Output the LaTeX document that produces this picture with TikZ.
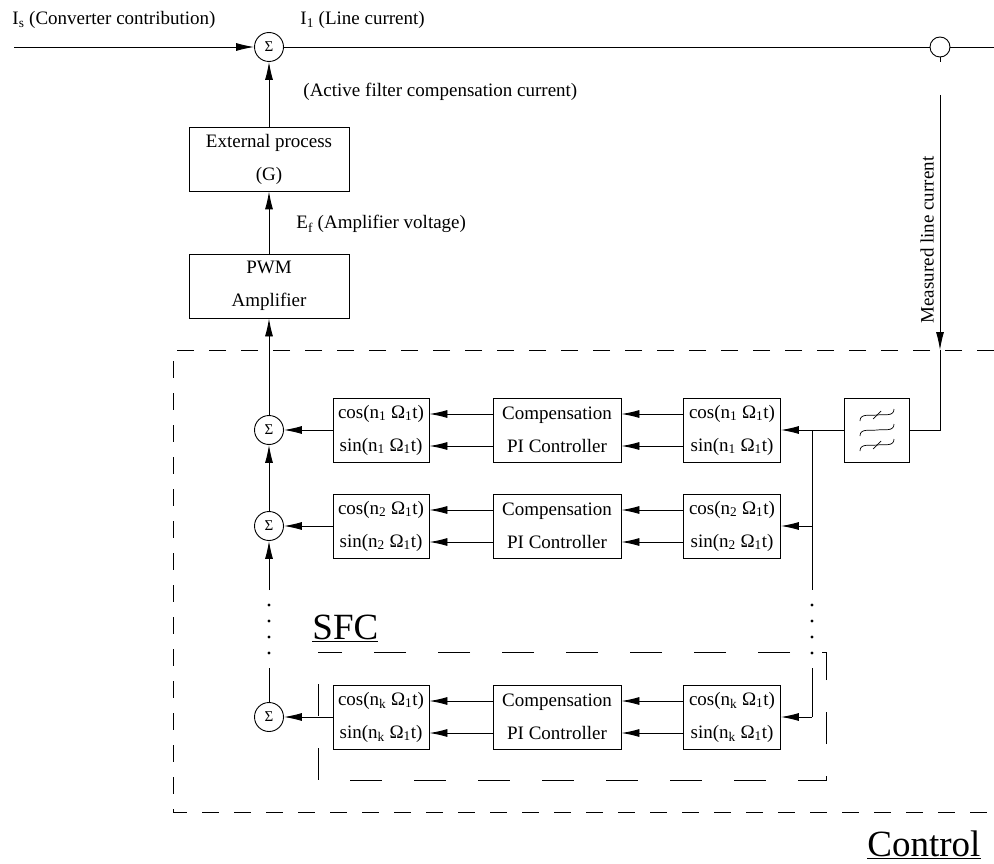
\documentclass[tikz,border=0pt]{standalone}
\usepackage{fontspec}
\setmainfont{Liberation Serif}
\usetikzlibrary{arrows.meta}

\tikzset{
  block/.style={draw, minimum height=64pt, inner sep=0pt, align=center, font=\fontsize{19}{33}\selectfont},
  sumnode/.style={circle, draw, minimum size=29pt, inner sep=0pt, font=\fontsize{15}{15}\selectfont},
  arr/.style={-{Latex[length=18pt,width=8pt]}},
  ctrlbox/.style={dash pattern=on 17pt off 15pt},
  sfcbox/.style={dash pattern=on 32pt off 32pt, dash phase=32pt},
  lbl/.style={anchor=base west, inner sep=0pt}
}

\begin{document}
\begin{tikzpicture}[x=1pt, y=-1pt, line width=0.9pt, font=\fontsize{19}{22}\selectfont]
    \useasboundingbox (0,0) rectangle (994,864);

    % Nodes
    \coordinate (src) at (14, 47);
    \node[sumnode] at (269, 47)  (sumline) {Σ};
    \node[circle, draw, minimum size=20pt, inner sep=0pt] at (940, 47)  (ct) {};
    \coordinate (lineend) at (994, 47);

    \node[block, minimum width=160pt] at (269, 159)  (ext) {External process\\(G)};
    \node[block, minimum width=160pt] at (269, 286)  (pwm) {PWM\\Amplifier};
    \node[draw, minimum width=65pt, minimum height=64pt] at (877, 430)  (filter) {};

    \node[sumnode] at (269, 430)  (sum1) {Σ};
    \node[sumnode] at (269, 526)  (sum2) {Σ};
    \node[sumnode] at (269, 717)  (sumk) {Σ};

    \node[block, minimum width=96pt] at (381, 430)  (mod1) {cos(n\textsubscript{1} Ω\textsubscript{1}t)\\sin(n\textsubscript{1} Ω\textsubscript{1}t)};
    \node[block, minimum width=96pt] at (381, 526)  (mod2) {cos(n\textsubscript{2} Ω\textsubscript{1}t)\\sin(n\textsubscript{2} Ω\textsubscript{1}t)};
    \node[block, minimum width=96pt] at (381, 717)  (modk) {cos(n\textsubscript{k} Ω\textsubscript{1}t)\\sin(n\textsubscript{k} Ω\textsubscript{1}t)};

    \node[block, minimum width=128pt] at (557, 430)  (comp1) {Compensation\\PI Controller};
    \node[block, minimum width=128pt] at (557, 526)  (comp2) {Compensation\\PI Controller};
    \node[block, minimum width=128pt] at (557, 717)  (compk) {Compensation\\PI Controller};

    \node[block, minimum width=97pt] at (732, 430)  (dem1) {cos(n\textsubscript{1} Ω\textsubscript{1}t)\\sin(n\textsubscript{1} Ω\textsubscript{1}t)};
    \node[block, minimum width=97pt] at (732, 526)  (dem2) {cos(n\textsubscript{2} Ω\textsubscript{1}t)\\sin(n\textsubscript{2} Ω\textsubscript{1}t)};
    \node[block, minimum width=97pt] at (732, 717)  (demk) {cos(n\textsubscript{k} Ω\textsubscript{1}t)\\sin(n\textsubscript{k} Ω\textsubscript{1}t)};

    \coordinate (meas) at (940, 95);
    \coordinate (meastip) at (940, 350);
    \coordinate (tap1) at (812, 430);
    \coordinate (tap2) at (812, 526);
    \coordinate (tapk) at (812, 717);
    \coordinate (busend) at (812, 590);
    \coordinate (busresume) at (812, 668);
    \coordinate (colend) at (269, 590);
    \coordinate (colresume) at (269, 668);

    % Labels
    \node[lbl] at (12, 25)  (islbl) {I\textsubscript{s} (Converter contribution)};
    \node[lbl] at (300, 25)  (illbl) {I\textsubscript{1} (Line current)};
    \node[lbl] at (303, 97)  (aflbl) {(Active filter compensation current)};
    \node[lbl] at (296, 229)  (eflbl) {E\textsubscript{f} (Amplifier voltage)};
    \node[rotate=90, inner sep=0pt] at (927, 240)  (measlbl) {Measured line current};
    \node[lbl, font=\fontsize{37}{40}\selectfont] at (312, 639)  (sfclbl) {\underline{SFC}};
    \node[lbl, font=\fontsize{37}{40}\selectfont] at (867, 856)  (ctrllbl) {\underline{Control}};

    % Line and measurement
    \draw[arr]  (src) -- (sumline);
    \draw       (sumline) -- (ct) -- (lineend);
    \draw       (ct.south) -- ++(0, 5);
    \draw[arr]  (meas) -- (meastip);
    \draw       (meastip) |- (filter.east);

    % Filter symbol
    \draw[line width=0.7pt] (860, 421) .. controls (860, 413) and (870, 416) .. (877, 415) .. controls (884, 414) and (894, 417) .. (894, 409);
    \draw[line width=0.7pt] (860, 436) .. controls (860, 428) and (870, 431) .. (877, 430) .. controls (884, 429) and (894, 432) .. (894, 424);
    \draw[line width=0.7pt] (860, 451) .. controls (860, 443) and (870, 446) .. (877, 445) .. controls (884, 444) and (894, 447) .. (894, 439);
    \draw[line width=0.7pt] (873, 419) -- (881, 411);
    \draw[line width=0.7pt] (873, 449) -- (881, 441);

    % Forward path
    \draw[arr]  (pwm) -- (ext);
    \draw[arr]  (ext) -- (sumline);
    \draw[arr]  (sum1) -- (pwm);
    \draw[arr]  (sum2) -- (sum1);
    \draw[arr]  (colend) -- (sum2);
    \draw       (sumk) -- (colresume);

    % Measurement bus
    \draw       (filter.west) -- (tap1) -- (busend);
    \draw       (busresume) -- (tapk);
    \draw[arr]  (tap1) -- (dem1);
    \draw[arr]  (tap2) -- (dem2);
    \draw[arr]  (tapk) -- (demk);

    % Rows
    \draw[arr]  ([yshift=16pt]dem1.west) -- ([yshift=16pt]comp1.east);
    \draw[arr]  ([yshift=-16pt]dem1.west) -- ([yshift=-16pt]comp1.east);
    \draw[arr]  ([yshift=16pt]comp1.west) -- ([yshift=16pt]mod1.east);
    \draw[arr]  ([yshift=-16pt]comp1.west) -- ([yshift=-16pt]mod1.east);
    \draw[arr]  (mod1) -- (sum1);

    \draw[arr]  ([yshift=16pt]dem2.west) -- ([yshift=16pt]comp2.east);
    \draw[arr]  ([yshift=-16pt]dem2.west) -- ([yshift=-16pt]comp2.east);
    \draw[arr]  ([yshift=16pt]comp2.west) -- ([yshift=16pt]mod2.east);
    \draw[arr]  ([yshift=-16pt]comp2.west) -- ([yshift=-16pt]mod2.east);
    \draw[arr]  (mod2) -- (sum2);

    \draw[arr]  ([yshift=16pt]demk.west) -- ([yshift=16pt]compk.east);
    \draw[arr]  ([yshift=-16pt]demk.west) -- ([yshift=-16pt]compk.east);
    \draw[arr]  ([yshift=16pt]compk.west) -- ([yshift=16pt]modk.east);
    \draw[arr]  ([yshift=-16pt]compk.west) -- ([yshift=-16pt]modk.east);
    \draw[arr]  (modk) -- (sumk);

    % Dots
    \fill (269, 605) circle (1.6pt) (269, 621) circle (1.6pt) (269, 637) circle (1.6pt) (269, 653) circle (1.6pt);
    \fill (812, 605) circle (1.6pt) (812, 621) circle (1.6pt) (812, 637) circle (1.6pt) (812, 653) circle (1.6pt);

    % Boxes
    \draw[ctrlbox] (994, 350) -- (173, 350) -- (173, 812) -- (994, 812);
    \draw[sfcbox]  (318, 652) rectangle (826, 780);
\end{tikzpicture}
\end{document}
